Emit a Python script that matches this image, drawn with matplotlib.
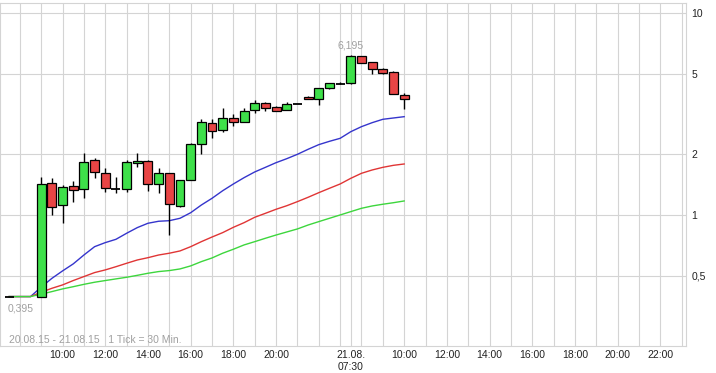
import numpy as np
import matplotlib
matplotlib.use('Agg')
import matplotlib.pyplot as plt
from matplotlib.ticker import FixedLocator, FixedFormatter, NullLocator

plt.rcParams['font.family'] = ['Liberation Sans', 'DejaVu Sans']

# Zeitpunkte (Tag 1 = 20.08., Tag 2 = 21.08.)
day1_times = ['07:30', '08:00', '08:30', '09:00', '09:30', '10:00', '10:30', '11:00',
              '11:30', '12:00', '12:30', '13:00', '13:30', '14:00', '14:30', '15:00',
              '15:30', '16:00', '16:30', '17:00', '17:30', '18:00', '18:30', '19:00',
              '19:30', '20:00', '20:30', '21:00', '21:30', '22:00', '22:30']
day2_times = ['07:00', '07:30', '08:00', '08:30', '09:00', '09:30', '10:00']

nan = np.nan
opens = [0.395, nan, nan, 0.395, 1.434, 1.117, 1.391, 1.34, 1.864, 1.618, 1.345, 1.34,
         1.80, 1.85, 1.418, 1.608, 1.111, 1.484, 2.245, 2.86, 2.623, 3.006, 2.87, 3.30,
         3.565, 3.42, 3.29, 3.537, 3.83, 3.73, 4.23,
         4.45, 4.48, 6.11, 5.72, 5.25, 5.075, 3.92]
highs = [0.395, nan, nan, 1.536, 1.518, 1.412, 1.467, 2.018, 1.907, 1.70, 1.536, 1.87,
         2.018, 1.87, 1.70, 1.62, 1.484, 2.26, 2.97, 2.97, 3.37, 3.16, 3.37, 3.70,
         3.63, 3.46, 3.60, 3.537, 3.89, 4.23, 4.48,
         4.52, 6.195, 6.11, 5.72, 5.33, 5.15, 4.0]
lows = [0.395, nan, nan, 0.395, 1.003, 0.916, 1.163, 1.209, 1.518, 1.304, 1.28, 1.304,
        1.733, 1.318, 1.289, 0.796, 1.092, 1.484, 1.995, 2.393, 2.58, 2.75, 2.87, 3.2,
        3.28, 3.25, 3.29, 3.537, 3.73, 3.5, 4.2,
        4.42, 4.45, 5.62, 4.95, 4.95, 3.95, 3.33]
closes = [0.395, nan, nan, 1.418, 1.092, 1.371, 1.325, 1.834, 1.625, 1.355, 1.345, 1.828,
          1.849, 1.418, 1.608, 1.129, 1.484, 2.236, 2.892, 2.593, 3.006, 2.87, 3.28, 3.565,
          3.37, 3.28, 3.537, 3.537, 3.73, 4.23, 4.48,
          4.50, 6.10, 5.62, 5.25, 5.05, 3.95, 3.73]

# gleitende Durchschnitte
ma_blue = [0.395, 0.395, 0.395, 0.44, 0.486, 0.529, 0.573, 0.634, 0.697, 0.730, 0.758,
           0.812, 0.866, 0.910, 0.931, 0.937, 0.963, 1.026, 1.12, 1.209, 1.318, 1.423,
           1.529, 1.632, 1.72, 1.814, 1.898, 1.995, 2.112, 2.227, 2.313,
           2.393, 2.581, 2.733, 2.860, 2.972, 3.017, 3.062]
ma_red = [0.395, 0.395, 0.395, 0.415, 0.434, 0.451, 0.474, 0.496, 0.519, 0.535, 0.555,
          0.577, 0.599, 0.615, 0.634, 0.647, 0.664, 0.697, 0.738, 0.778, 0.818, 0.869,
          0.916, 0.974, 1.019, 1.067, 1.111, 1.164, 1.223, 1.289, 1.355,
          1.423, 1.518, 1.607, 1.669, 1.72, 1.76, 1.787]
ma_green = [0.395, 0.395, 0.395, 0.406, 0.418, 0.431, 0.442, 0.454, 0.465, 0.474, 0.483,
            0.492, 0.503, 0.515, 0.525, 0.531, 0.541, 0.56, 0.588, 0.613, 0.647, 0.677,
            0.711, 0.738, 0.767, 0.796, 0.824, 0.853, 0.892, 0.927, 0.963,
            1.0, 1.039, 1.079, 1.108, 1.13, 1.15, 1.173]

y_ticks = [0.5, 1, 2, 5, 10]
y_labels = ['0,5', '1', '2', '5', '10']
x_tick_pos = ['d1 10:00', 'd1 12:00', 'd1 14:00', 'd1 16:00', 'd1 18:00', 'd1 20:00',
              'd2 07:30', 'd2 10:00', 'd2 12:00', 'd2 14:00', 'd2 16:00', 'd2 18:00',
              'd2 20:00', 'd2 22:00']
x_labels = ['10:00', '12:00', '14:00', '16:00', '18:00', '20:00', '21.08.\n07:30',
            '10:00', '12:00', '14:00', '16:00', '18:00', '20:00', '22:00']


def to_hours(t, day):
    # Stunden seit 20.08. 07:00, Handelstag 07:00-23:00
    h, m = t.split(':')
    return (day - 1) * 16 + int(h) - 7 + int(m) / 60.0


t = np.array([to_hours(s, 1) for s in day1_times] + [to_hours(s, 2) for s in day2_times])
o = np.array(opens); h = np.array(highs); l = np.array(lows); c = np.array(closes)

fig = plt.figure(figsize=(7.16, 3.73), dpi=100)
ax = fig.add_axes([0.0, 27 / 373, 686 / 716, 343 / 373])
ax.set_yscale('log')
ax.set_ylim(0.225, 11.17)
ax.set_xlim(0.07, 32.2)

# Gitter
grid_c = '#d4d4d4'
for yv in y_ticks:
    ax.axhline(yv, color=grid_c, lw=0.8, zorder=0)
for xv in list(range(0, 33)) + [16.5]:
    ax.axvline(xv, color=grid_c, lw=0.8, zorder=0)

# gleitende Durchschnitte
ax.plot(t, ma_blue, color='#3535cc', lw=1.0, zorder=2)
ax.plot(t, ma_red, color='#e03535', lw=1.0, zorder=2)
ax.plot(t, ma_green, color='#3dd63d', lw=1.0, zorder=2)

# Kerzen
w = 0.42
for i in range(len(t)):
    if np.isnan(o[i]):
        continue
    ax.vlines(t[i], l[i], h[i], color='black', lw=1.0, zorder=3)
    lo, hi = min(o[i], c[i]), max(o[i], c[i])
    col = '#3ee04a' if c[i] >= o[i] else '#e84545'
    if hi / lo < 1.012:
        ax.hlines(o[i], t[i] - w / 2, t[i] + w / 2, color='black', lw=1.3, zorder=4)
    else:
        ax.bar(t[i], hi - lo, bottom=lo, width=w, color=col, edgecolor='black',
               lw=0.9, zorder=4)

# Extremwerte
i_max = int(np.nanargmax(h)); i_min = int(np.nanargmin(l))
ax.annotate('6,195', (t[i_max], h[i_max]), xytext=(0, 9), textcoords='offset pixels',
            ha='center', va='center', fontsize=7.5, color='#a0a0a0')
ax.annotate('0,395', (t[i_min], l[i_min]), xytext=(-2, -12), textcoords='offset pixels',
            ha='left', va='center', fontsize=7.5, color='#a0a0a0')

ax.text(0.013, 0.018, '20.08.15 - 21.08.15   1 Tick = 30 Min.', transform=ax.transAxes,
        ha='left', va='center', fontsize=7.5, color='#a0a0a0')

# Achsen
ax.yaxis.tick_right()
ax.yaxis.set_major_locator(FixedLocator(y_ticks))
ax.yaxis.set_major_formatter(FixedFormatter(y_labels))
ax.yaxis.set_minor_locator(NullLocator())
xt = [to_hours(s.split()[1], int(s[1])) for s in x_tick_pos]
ax.set_xticks(xt)
ax.set_xticklabels(x_labels)
ax.tick_params(axis='both', length=0, labelsize=7.5, colors='#222222')
ax.tick_params(axis='x', pad=3)
ax.tick_params(axis='y', pad=4)
for s in ax.spines.values():
    s.set_color(grid_c)
    s.set_linewidth(0.8)

fig.savefig('out.png', dpi=100)
